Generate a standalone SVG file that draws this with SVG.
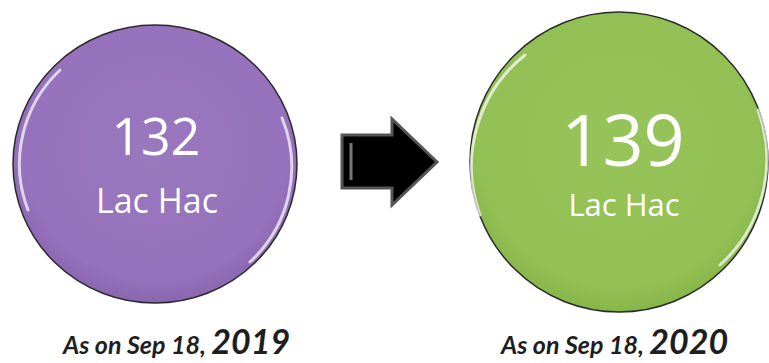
<svg xmlns="http://www.w3.org/2000/svg" width="769" height="363" viewBox="0 0 769 363">
<defs>
<radialGradient id="gp" cx="50%" cy="45%" r="55%">
<stop offset="0" stop-color="#9a78be"/>
<stop offset="0.85" stop-color="#9572bb"/>
<stop offset="1" stop-color="#8a66b0"/>
</radialGradient>
<radialGradient id="gg" cx="50%" cy="45%" r="55%">
<stop offset="0" stop-color="#97c45a"/>
<stop offset="0.85" stop-color="#93c054"/>
<stop offset="1" stop-color="#86b548"/>
</radialGradient>
</defs>
<style>
.ring{stroke:#2a2a2a;stroke-width:1.5}
.glare{fill:none;stroke:#ffffff;stroke-width:3;stroke-linecap:round;opacity:0.7}
.num{font-family:"Open Sans","DejaVu Sans",sans-serif;fill:#ffffff;text-anchor:middle}
.cap{font-family:"Open Sans","DejaVu Sans",sans-serif;fill:#ffffff;text-anchor:middle}
.date{font-family:Lato,"Open Sans",sans-serif;font-style:italic;font-weight:bold;fill:#1e1e1e}
</style>
<rect width="769" height="363" fill="#ffffff"/>
<g id="node-2019">
<ellipse class="ring" cx="155" cy="164" rx="142" ry="139" fill="url(#gp)"/>
<path class="glare" d="M 28 210 A 134 131 0 0 1 60 70"/>
<path class="glare" d="M 282 118 A 134 131 0 0 1 250 262"/>
<text class="num" x="156" y="155" font-size="52">132</text>
<text class="cap" x="157" y="213" font-size="34">Lac Hac</text>
</g>
<g id="connectors">
<path d="M 342 135 L 392 135 L 392 119 L 437 162 L 392 205 L 392 188 L 342 188 Z" fill="#000000" stroke="#555555" stroke-width="3" stroke-linejoin="miter"/>
<path d="M 351 143 L 351 180" stroke="#777777" stroke-width="3" fill="none"/>
</g>
<g id="node-2020">
<ellipse class="ring" cx="619" cy="162" rx="149" ry="150" fill="url(#gg)"/>
<path class="glare" d="M 480 215 A 141 142 0 0 1 525 55"/>
<path class="glare" d="M 758 110 A 141 142 0 0 1 720 265"/>
<text class="num" x="623" y="166" font-size="72">139</text>
<text class="cap" x="624" y="216" font-size="31">Lac Hac</text>
</g>
<g id="labels">
<text class="date" x="63" y="354" font-size="25">As on Sep 18, <tspan font-size="34">2019</tspan></text>
<text class="date" x="501" y="354" font-size="25">As on Sep 18, <tspan font-size="34">2020</tspan></text>
</g>
</svg>
